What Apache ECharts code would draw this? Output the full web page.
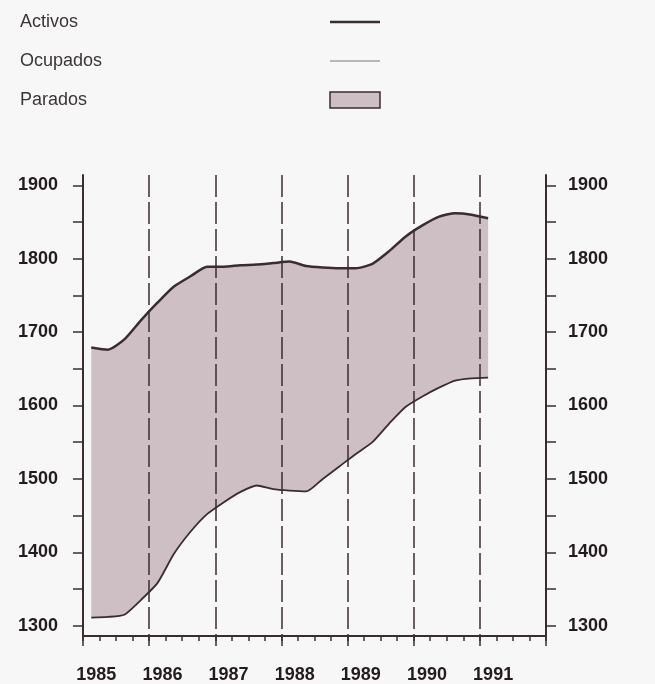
<!DOCTYPE html>
<html>
<head>
<meta charset="utf-8">
<script src="https://cdn.jsdelivr.net/npm/echarts@6/dist/echarts.min.js"></script>
<style>
  html, body { margin: 0; padding: 0; background: #f8f7f7; }
  #chart { width: 655px; height: 684px; }
</style>
</head>
<body>
<div id="chart"></div>
<script>
// años (etiquetas del eje x) y trimestres
const years = ['1985', '1986', '1987', '1988', '1989', '1990', '1991']
const quarters = years.flatMap((y) => ['I', 'II', 'III', 'IV'].map((q) => y + '-' + q))

// miles de personas, datos trimestrales 1985-I .. 1991-I
const activos = [1679, 1676, 1690, 1716, 1740, 1762, 1776, 1789, 1789, 1791, 1792, 1794, 1796,
  1790, 1788, 1787, 1787, 1793, 1810, 1830, 1845, 1857, 1862, 1860, 1855]
const ocupados = [1311, 1312, 1315, 1335, 1358, 1398, 1428, 1452, 1468, 1482, 1491, 1486, 1484,
  1483, 1500, 1517, 1534, 1550, 1575, 1598, 1612, 1624, 1634, 1637, 1638]
const parados = activos.map((v, i) => v - ocupados[i])

const yLabels = [1300, 1400, 1500, 1600, 1700, 1800, 1900]
const yTicks = [1300, 1350, 1400, 1450, 1500, 1550, 1600, 1650, 1700, 1750, 1800, 1850, 1900]

const ink = '#3a2c32'
const fill = '#cdbfc4'
const labelFont = { color: '#231c1f', fontSize: 18, fontWeight: 'bold', fontFamily: 'Liberation Sans' }

const chart = echarts.init(document.getElementById('chart'))

function yAxis(pos) {
  return {
    type: 'value',
    position: pos,
    min: 1286,
    max: 1914,
    z: 5,
    axisLine: { show: true, lineStyle: { color: ink, width: 2 } },
    axisTick: { show: true, length: 10, customValues: yTicks, lineStyle: { color: ink, width: 1.5 } },
    axisLabel: {
      ...labelFont,
      margin: pos === 'left' ? 25 : 22,
      customValues: yLabels,
      formatter: (v) => String(v),
    },
    splitLine: { show: false },
  }
}

const major = (i) => i % 4 === 0

chart.setOption({
  backgroundColor: '#f8f7f7',
  animation: false,
  legend: {
    orient: 'vertical',
    left: 15,
    top: 8,
    align: 'right',
    itemGap: 21,
    itemWidth: 50,
    itemHeight: 16,
    formatter: (name) => '{t|' + name + '}',
    textStyle: {
      rich: { t: { color: '#3a3536', fontSize: 18, fontFamily: 'Liberation Sans', width: 305, align: 'left' } },
    },
    data: [
      { name: 'Activos', icon: 'path://M0 0H50V2.5H0Z', itemStyle: { color: ink, borderWidth: 0 } },
      { name: 'Ocupados', icon: 'path://M0 0H50V1H0Z', itemStyle: { color: '#7d7679', borderWidth: 0 } },
      { name: 'Parados', icon: 'rect', itemStyle: { color: fill, borderColor: ink, borderWidth: 1.5 } },
    ],
  },
  grid: { left: 83, right: 109, top: 175, bottom: 47 },
  xAxis: [
    {
      type: 'category',
      data: quarters,
      boundaryGap: true,
      position: 'bottom',
      axisLine: { show: true, lineStyle: { color: ink, width: 2 } },
      axisTick: { show: true, interval: 0, length: 5, lineStyle: { color: ink, width: 1.5 } },
      axisLabel: { show: false },
      splitLine: { show: false },
    },
    {
      type: 'category',
      data: quarters,
      boundaryGap: true,
      position: 'bottom',
      z: 5,
      axisLine: { show: false },
      axisTick: { show: true, interval: major, length: 10, lineStyle: { color: ink, width: 1.5 } },
      axisLabel: {
        ...labelFont,
        interval: major,
        margin: 30,
        padding: [0, 0, 0, 10],
        formatter: (v) => v.slice(0, 4),
      },
      splitLine: { show: true, interval: major, lineStyle: { color: ink, width: 1.5, type: [22, 5] } },
    },
  ],
  yAxis: [yAxis('left'), yAxis('right')],
  series: [
    {
      name: 'Ocupados',
      type: 'line',
      stack: 'total',
      data: ocupados,
      symbol: 'none',
      smooth: 0.2,
      lineStyle: { color: ink, width: 1.8 },
      itemStyle: { color: ink },
      z: 3,
    },
    {
      name: 'Parados',
      type: 'line',
      stack: 'total',
      data: parados,
      symbol: 'none',
      smooth: 0.2,
      lineStyle: { width: 0 },
      itemStyle: { color: fill },
      areaStyle: { color: fill, opacity: 1 },
      z: 2,
    },
    {
      name: 'Activos',
      type: 'line',
      data: activos,
      symbol: 'none',
      smooth: 0.2,
      lineStyle: { color: ink, width: 2.5 },
      itemStyle: { color: ink },
      z: 4,
    },
  ],
})
</script>
</body>
</html>
